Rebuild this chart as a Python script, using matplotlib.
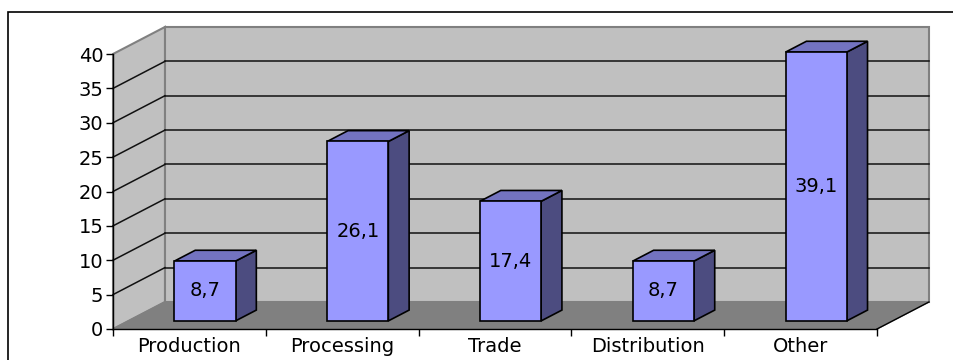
import matplotlib
matplotlib.use("Agg")
import matplotlib.pyplot as plt
from matplotlib.patches import Polygon, Rectangle

# data
categories = ["Production", "Processing", "Trade", "Distribution", "Other"]
values = [8.7, 26.1, 17.4, 8.7, 39.1]
labels = ["8,7", "26,1", "17,4", "8,7", "39,1"]
yticks = [0, 5, 10, 15, 20, 25, 30, 35, 40]

# oblique depth offset, in data units per full depth
DX = 0.34
DY = 3.93
F0, F1 = 0.3, 0.7      # bar front / back depth
BAR_W = 0.4

FRONT = "#9999ff"
SIDE = "#4c4c80"
TOP = "#7373c0"
WALL = "#c0c0c0"
FLOOR = "#808080"
FS = 14

plt.rcParams["font.family"] = ["DejaVu Sans"]

fig = plt.figure(figsize=(9.54, 3.6), dpi=100)
ax = fig.add_axes([113 / 954, 31 / 360, 764 / 954, 275 / 360])
ax.set_xlim(0, len(categories))
ax.set_ylim(0, 40)
ax.patch.set_visible(False)


def p(x, y, f):
    return (x + DX * f, y + DY * f)


def poly(pts, fc, ec, lw=1.0, z=1):
    ax.add_patch(Polygon(pts, closed=True, facecolor=fc, edgecolor=ec,
                         linewidth=lw, clip_on=False, zorder=z,
                         joinstyle="miter"))


n = len(categories)
ymax = yticks[-1]

# walls and floor
poly([p(0, 0, 1), p(n, 0, 1), p(n, ymax, 1), p(0, ymax, 1)], WALL, "#808080", 1.5, 0.5)
poly([p(0, 0, 0), p(0, ymax, 0), p(0, ymax, 1), p(0, 0, 1)], WALL, "#808080", 1.5, 0.6)
poly([p(0, 0, 0), p(n, 0, 0), p(n, 0, 1), p(0, 0, 1)], FLOOR, FLOOR, 1.0, 0.7)
xs, ys = zip(p(n, 0, 0), p(n, 0, 1))
ax.plot(xs, ys, color="black", lw=1, clip_on=False, zorder=0.8)

# gridlines on back and side walls
for v in yticks[1:-1]:
    xs, ys = zip(p(0, v, 1), p(n, v, 1))
    ax.plot(xs, ys, color="#111111", lw=1.1, clip_on=False, zorder=0.9)
    xs, ys = zip(p(0, v, 0), p(0, v, 1))
    ax.plot(xs, ys, color="#111111", lw=1.1, clip_on=False, zorder=0.9)

# bars
for i, (v, lab) in enumerate(zip(values, labels)):
    x0 = i + 0.5 - BAR_W / 2
    x1 = i + 0.5 + BAR_W / 2
    poly([p(x1, 0, F0), p(x1, 0, F1), p(x1, v, F1), p(x1, v, F0)], SIDE, "black", 1.2, 2)
    poly([p(x0, v, F0), p(x1, v, F0), p(x1, v, F1), p(x0, v, F1)], TOP, "black", 1.2, 2)
    poly([p(x0, 0, F0), p(x1, 0, F0), p(x1, v, F0), p(x0, v, F0)], FRONT, "black", 1.2, 2)
    cx, cy = p(i + 0.5, v / 2, F0)
    ax.text(cx, cy, lab, ha="center", va="center", fontsize=FS, zorder=3)

# axes
for s in ["top", "right"]:
    ax.spines[s].set_visible(False)
for s in ["left", "bottom"]:
    ax.spines[s].set_color("black")
    ax.spines[s].set_linewidth(1)
    ax.spines[s].set_zorder(2.5)

ax.set_yticks(yticks)
ax.set_yticklabels([str(t) for t in yticks])
ax.tick_params(axis="y", direction="out", length=5, width=1, pad=2, labelsize=FS)

ax.set_xticks(range(n + 1))
ax.set_xticklabels([])
ax.set_xticks([i + 0.5 for i in range(n)], minor=True)
ax.set_xticklabels(categories, minor=True)
ax.tick_params(axis="x", which="major", direction="out", length=5, width=1)
ax.tick_params(axis="x", which="minor", length=0, pad=6, labelsize=FS)

# outer chart border
fig.add_artist(Rectangle((8 / 954, -0.1), 1.0, 1 - 12 / 360 + 0.1,
                         transform=fig.transFigure, fill=False,
                         edgecolor="black", linewidth=1.2))

fig.savefig("out.png", dpi=100)
